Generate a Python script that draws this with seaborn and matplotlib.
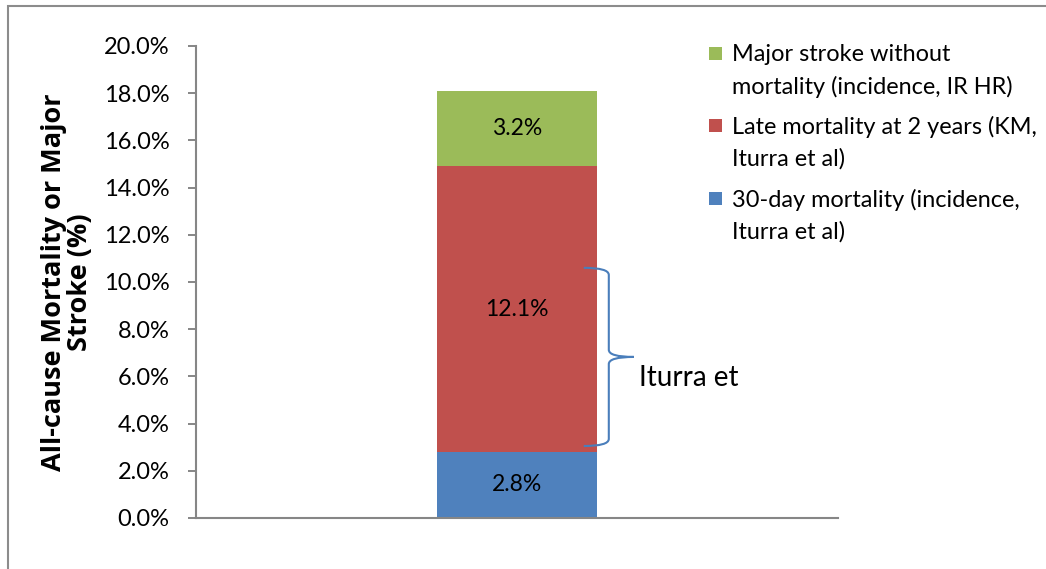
import matplotlib
matplotlib.use("Agg")
import matplotlib.pyplot as plt
from matplotlib.patches import Rectangle, PathPatch
from matplotlib.path import Path
from matplotlib.ticker import FuncFormatter
import numpy as np
import pandas as pd
import seaborn as sns

# Stacked components (percent), bottom to top
components = [
    "30-day mortality (incidence,\nIturra et al)",
    "Late mortality at 2 years (KM,\nIturra et al)",
    "Major stroke without\nmortality (incidence, IR HR)",
]
values = [2.8, 12.1, 3.2]
colors = ["#4F81BD", "#C0504D", "#9BBB59"]
category = [""]
y_ticks = [0, 2, 4, 6, 8, 10, 12, 14, 16, 18, 20]
brace_label = "Iturra et"
brace_span = [3.05, 10.6]

sns.set_theme(style="white")
plt.rcParams["font.family"] = ["Lato", "DejaVu Sans"]
plt.rcParams["text.color"] = "black"
plt.rcParams["ytick.color"] = "black"
plt.rcParams["axes.labelcolor"] = "black"

fig = plt.figure(figsize=(10.46, 5.69), dpi=100)
ax = fig.add_axes([196 / 1046, 1 - 518 / 569, (838 - 196) / 1046, (518 - 46) / 569])

# Draw the stack as overlapping cumulative bars, tallest first
tops = np.cumsum(values)
for top, col in reversed(list(zip(tops, colors))):
    df = pd.DataFrame({"cat": category, "val": [top]})
    sns.barplot(data=df, x="cat", y="val", color=col, saturation=1,
                width=0.25, ax=ax, edgecolor="none", linewidth=0)

# Segment value labels
bottoms = tops - np.array(values)
for b, v in zip(bottoms, values):
    ax.text(0, b + v / 2, f"{v:.1f}%", ha="center", va="center",
            fontsize=16.5, color="black")

ax.set_xlim(-0.5, 0.5)
ax.set_ylim(0, 20)
ax.set_yticks(y_ticks)
ax.yaxis.set_major_formatter(FuncFormatter(lambda v, p: f"{v:.1f}%"))
ax.set_xticks([])
ax.set_xlabel("")
ax.set_ylabel("All-cause Mortality or Major\nStroke (%)", fontsize=19.5,
              fontweight="bold", family=["Open Sans", "DejaVu Sans"],
              labelpad=8, linespacing=1.0)
ax.tick_params(axis="y", direction="out", length=6, width=1.4,
               color="#868686", pad=13, labelsize=17, left=True)
for s in ["top", "right"]:
    ax.spines[s].set_visible(False)
for s in ["left", "bottom"]:
    ax.spines[s].set_color("#868686")
    ax.spines[s].set_linewidth(1.5)

# Brace marking the Iturra et al. portion
x0, x1, x2 = 0.104, 0.143, 0.182
ylo, yhi = brace_span
ym = (ylo + yhi) / 2
c = 0.3
verts = [
    (x0, yhi), (x1, yhi), (x1, yhi - c),
    (x1, ym + c),
    (x1, ym), (x2, ym),
    (x1, ym), (x1, ym - c),
    (x1, ylo + c),
    (x1, ylo), (x0, ylo),
]
codes = [Path.MOVETO, Path.CURVE3, Path.CURVE3,
         Path.LINETO,
         Path.CURVE3, Path.CURVE3,
         Path.CURVE3, Path.CURVE3,
         Path.LINETO,
         Path.CURVE3, Path.CURVE3]
ax.add_patch(PathPatch(Path(verts, codes), facecolor="none",
                       edgecolor="#4A7EBB", linewidth=1.5, clip_on=False))
ax.text(0.19, ym - 0.9, brace_label, ha="left", va="center",
        fontsize=20, color="black")

# Legend, top entry first
W, H = 1046, 569
square_y = [53, 125, 198]
text_y = [71, 143, 216]
for sy, ty, lab, col in zip(square_y, text_y, reversed(components), reversed(colors)):
    fig.add_artist(Rectangle((709 / W, 1 - (sy + 7) / H), 13 / W, 13 / H,
                             transform=fig.transFigure, facecolor=col,
                             edgecolor="none"))
    fig.text(732 / W, 1 - ty / H, lab, ha="left", va="center",
             fontsize=16.9, linespacing=1.58, color="black")

# Outer chart frame
fig.add_artist(Rectangle((8 / W, -0.1), 1.2, 1 - 6 / H + 0.1,
                         transform=fig.transFigure, facecolor="none",
                         edgecolor="#8C8C8C", linewidth=1.5))

fig.savefig("out.png", dpi=100)
